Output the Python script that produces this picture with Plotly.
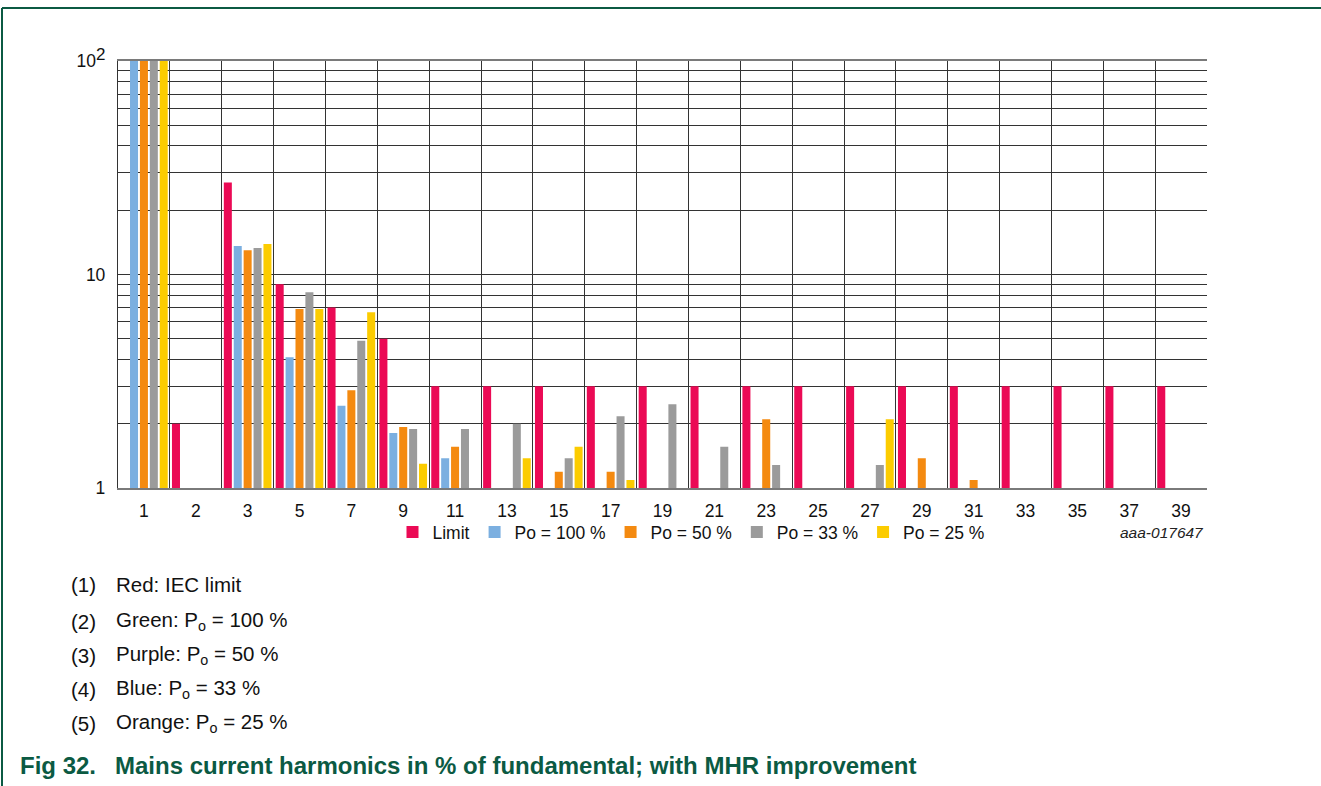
import plotly.graph_objects as go

# Harmonic order categories
harmonics = ["1", "2", "3", "5", "7", "9", "11", "13", "15", "17", "19",
             "21", "23", "25", "27", "29", "31", "33", "35", "37", "39"]

# Mains current harmonics in % of fundamental
limit = [None, 2.0, 27.0, 9.0, 7.0, 5.0, 3.0, 3.0, 3.0, 3.0, 3.0,
         3.0, 3.0, 3.0, 3.0, 3.0, 3.0, 3.0, 3.0, 3.0, 3.0]
po_100 = [100, None, 13.6, 4.1, 2.43, 1.81, 1.38, None, None, None, None,
          None, None, None, None, None, None, None, None, None, None]
po_50 = [100, None, 13.0, 6.9, 2.87, 1.93, 1.56, None, 1.19, 1.19, None,
         None, 2.1, None, None, 1.38, 1.09, None, None, None, None]
po_33 = [100, None, 13.3, 8.26, 4.89, 1.89, 1.89, 2.0, 1.38, 2.17, 2.47,
         1.56, 1.28, None, 1.28, None, None, None, None, None, None]
po_25 = [100, None, 13.9, 6.9, 6.66, 1.3, None, 1.38, 1.56, 1.09, None,
         None, None, None, 2.1, None, None, None, None, None, None]

series_names = ["Limit", "Po = 100 %", "Po = 50 %", "Po = 33 %", "Po = 25 %"]
series_values = [limit, po_100, po_50, po_33, po_25]
series_colors = ["#eb0a55", "#7bafe0", "#f48a10", "#9b9b9b", "#fccc00"]

# Log axis grid values and labels
y_grid_vals = [1, 2, 3, 4, 5, 6, 7, 8, 9, 10, 20, 30, 40, 50, 60, 70, 80, 90, 100]
y_grid_text = ["1", "", "", "", "", "", "", "", "", "10",
               "", "", "", "", "", "", "", "",
               "10<sup><span style='font-size:17px'>2</span></sup>"]

notes = [
    ("(1)", "Red: IEC limit"),
    ("(2)", "Green: P<sub>o</sub> = 100 %"),
    ("(3)", "Purple: P<sub>o</sub> = 50 %"),
    ("(4)", "Blue: P<sub>o</sub> = 33 %"),
    ("(5)", "Orange: P<sub>o</sub> = 25 %"),
]

W, H = 1321, 786
L, R, T, B = 118, 114, 61, 298
PW, PH = W - L - R, H - T - B
FONT = "Liberation Sans, Arial, sans-serif"
GREEN = "#0b5a43"


def px(x):
    return (x - L) / PW


def py(y):
    return (H - B - y) / PH


fig = go.Figure()
for name, vals, col in zip(series_names, series_values, series_colors):
    fig.add_trace(go.Bar(x=harmonics, y=vals, name=name,
                         marker=dict(color=col, line=dict(width=0))))

annotations = []
note_y = [584, 621, 655, 689, 723]
for (num, txt), yy in zip(notes, note_y):
    annotations.append(dict(x=px(69), y=py(yy), xref="paper", yref="paper",
                            text=num, showarrow=False, xanchor="left",
                            yanchor="middle", font=dict(size=20.5, color="#111")))
    annotations.append(dict(x=px(114), y=py(yy), xref="paper", yref="paper",
                            text=txt, showarrow=False, xanchor="left",
                            yanchor="middle", font=dict(size=20.5, color="#111")))

annotations.append(dict(x=px(18), y=py(766), xref="paper", yref="paper",
                        text="<b>Fig 32.</b>", showarrow=False, xanchor="left",
                        yanchor="middle", font=dict(size=24, color=GREEN)))
annotations.append(dict(x=px(113), y=py(766), xref="paper", yref="paper",
                        text="<b>Mains current harmonics in % of fundamental; with MHR improvement</b>",
                        showarrow=False, xanchor="left", yanchor="middle",
                        font=dict(size=24, color=GREEN)))
annotations.append(dict(x=px(1206), y=py(532), xref="paper", yref="paper",
                        text="<i>aaa-017647</i>", showarrow=False, xanchor="right",
                        yanchor="middle", font=dict(size=15.5, color="#222")))

shapes = [
    # page frame: top and left rules
    dict(type="line", xref="paper", yref="paper", x0=px(2), x1=px(W + 5),
         y0=py(8), y1=py(8), line=dict(color=GREEN, width=2)),
    dict(type="line", xref="paper", yref="paper", x0=px(2), x1=px(2),
         y0=py(8), y1=py(H + 5), line=dict(color=GREEN, width=2)),
]

fig.update_layout(
    width=W, height=H,
    margin=dict(l=L, r=R, t=T, b=B, pad=0),
    paper_bgcolor="white", plot_bgcolor="white",
    barmode="group", bargap=0.045, bargroupgap=0.19,
    font=dict(family=FONT, size=17, color="#111"),
    showlegend=True,
    legend=dict(orientation="h", x=px(691), y=py(532), xanchor="center",
                yanchor="middle", font=dict(size=17.5), itemwidth=30,
                traceorder="normal", bgcolor="rgba(0,0,0,0)"),
    annotations=annotations,
    shapes=shapes,
)

fig.update_xaxes(
    type="category", categoryorder="array", categoryarray=harmonics,
    tickson="boundaries", ticks="", showgrid=True,
    gridcolor="#333333", gridwidth=1.4,
    showline=True, linecolor="#7a7a7a", linewidth=2, mirror=True,
    tickfont=dict(size=17.5, color="#111"), ticklabelstandoff=6,
    zeroline=False,
)
fig.update_yaxes(
    type="log", range=[0, 2],
    tickmode="array", tickvals=y_grid_vals, ticktext=y_grid_text,
    ticks="", showgrid=True, gridcolor="#333333", gridwidth=1.3,
    showline=True, linecolor="#333333", linewidth=1.3,
    tickfont=dict(size=17.5, color="#111"), ticklabelstandoff=8,
    zeroline=False,
)

fig.write_html("out.html")
